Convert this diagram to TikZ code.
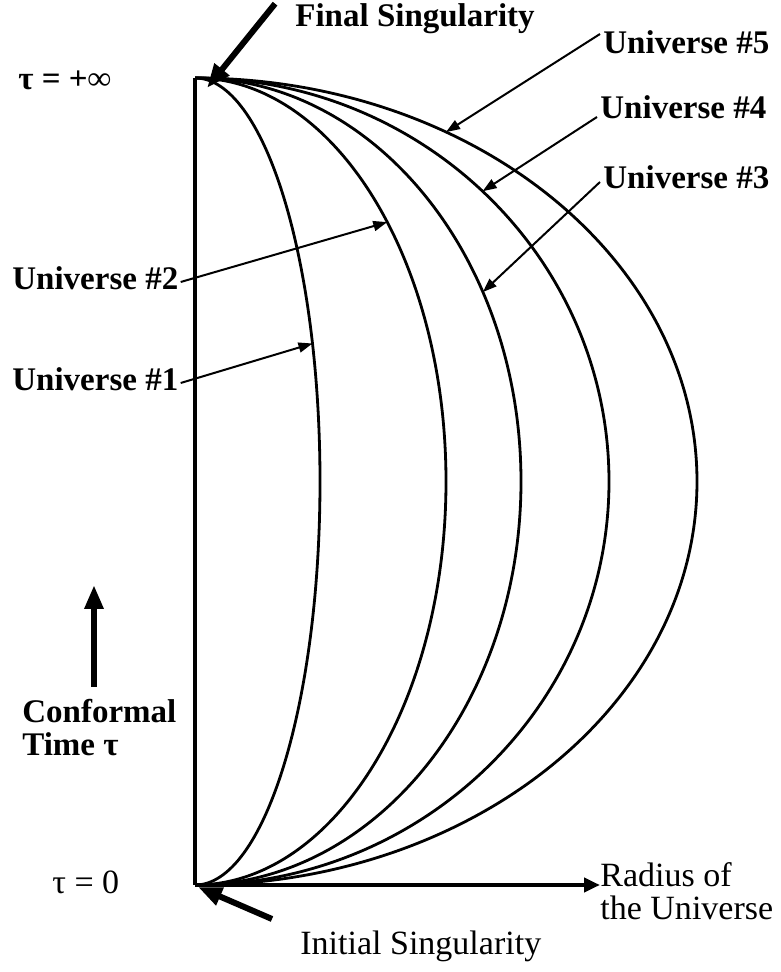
\documentclass[tikz,border=0pt]{standalone}
\usepackage{fontspec}
\setmainfont{Liberation Serif}
\usetikzlibrary{arrows.meta,calc}

\begin{document}
\begin{tikzpicture}[x=0.5bp,y=0.5bp,
  lbl/.style={font=\fontsize{16.5bp}{16.5bp}\selectfont\bfseries,inner sep=0pt,anchor=base west},
  plain/.style={font=\fontsize{17bp}{16.5bp}\selectfont,inner sep=0pt,anchor=base west},
  curve/.style={line width=1.4bp},
  ptr/.style={line width=1bp,-{Triangle[length=7bp,width=5bp]}},
  bigarrow/.style={line width=3bp,-{Triangle[length=12bp,width=9bp]}}]
\useasboundingbox (0,0) rectangle (781,972);
\coordinate (origin) at (195,87);
\coordinate (top) at (195,894);
\coordinate (c) at (195,490.5);
% labels
\node[lbl] (fs) at (295,945) {Final Singularity};
\node[lbl] (inf) at (18,882) {τ = +∞};
\node[lbl] (u5) at (603,918) {Universe \#5};
\node[lbl] (u4) at (600,853) {Universe \#4};
\node[lbl] (u3) at (603,783) {Universe \#3};
\node[lbl] (u2) at (12,682) {Universe \#2};
\node[lbl] (u1) at (12,581) {Universe \#1};
\node[lbl,anchor=north west,align=left] (conf) at (22,273) {Conformal\\Time τ};
\node[plain] (zero) at (52,79) {τ = 0};
\node[plain,anchor=north west,align=left] (radius) at (600,110) {Radius of\\the Universe};
\node[plain] (init) at (300,17) {Initial Singularity};
% axes
\draw[line width=2bp] (top) -- (origin);
\draw[line width=2bp,-{Triangle[length=8bp,width=7bp]}] (origin) -- (origin -| radius.west);
% universes
\draw[curve] (top) arc[start angle=90,end angle=-90,x radius=125,y radius=403.5];
\draw[curve] (top) arc[start angle=90,end angle=-90,x radius=251,y radius=403.5];
\draw[curve] (top) arc[start angle=90,end angle=-90,x radius=326,y radius=403.5];
\draw[curve] (top) arc[start angle=90,end angle=-90,x radius=414,y radius=403.5];
\draw[curve] (top) arc[start angle=90,end angle=-90,x radius=502,y radius=403.5];
\coordinate (p1) at ($(c)+(20:125 and 403.5)$);
\coordinate (p2) at ($(c)+(40:251 and 403.5)$);
\coordinate (p3) at ($(c)+(28:326 and 403.5)$);
\coordinate (p4) at ($(c)+(46:414 and 403.5)$);
\coordinate (p5) at ($(c)+(60:502 and 403.5)$);
% pointers
\draw[ptr] ([shift={(-3,20)}]u5.base west) -- (p5);
\draw[ptr] ([shift={(-3,2)}]u4.base west) -- (p4);
\draw[ptr] ([shift={(-3,7)}]u3.base west) -- (p3);
\draw[ptr] ([shift={(2,8)}]u2.base east) -- (p2);
\draw[ptr] ([shift={(2,8)}]u1.base east) -- (p1);
\draw[bigarrow] ([xshift=-10]fs.north west) -- ([shift={(12,-10)}]top);
\draw[bigarrow] ([shift={(-28,12)}]init.north west) -- ([shift={(3,-2)}]origin);
\draw[bigarrow] ([shift={(72,12)}]conf.north west) -- ++(0,102);
\end{tikzpicture}
\end{document}
